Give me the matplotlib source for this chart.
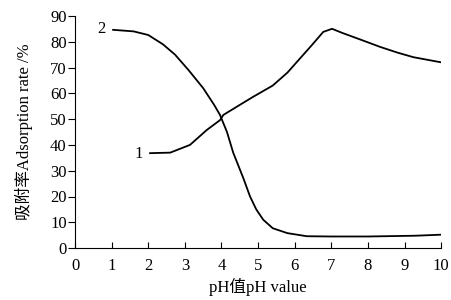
import matplotlib
matplotlib.use("Agg")
import matplotlib.pyplot as plt

plt.rcParams['font.family'] = ['Liberation Serif', 'Noto Sans CJK SC']

ph1 = [2.05, 2.6, 3.14, 3.6, 3.96, 4.05, 4.5, 4.86, 5.4, 5.8, 6.15, 6.47, 6.78, 7.02, 7.3, 7.8, 8.33, 8.8, 9.24, 10.0]
rate1 = [36.8, 37.0, 40.0, 45.8, 49.6, 51.6, 55.5, 58.6, 63.0, 68.0, 73.6, 78.7, 83.8, 85.0, 83.4, 80.8, 78.0, 75.8, 74.0, 72.0]

ph2 = [1.04, 1.6, 2.0, 2.4, 2.73, 3.1, 3.5, 3.8, 3.96, 4.15, 4.32, 4.6, 4.78, 4.95, 5.14, 5.4, 5.8, 6.33, 7.0, 8.0, 9.3, 10.0]
rate2 = [84.6, 84.0, 82.6, 79.0, 75.0, 69.0, 62.0, 55.5, 51.6, 45.0, 37.0, 27.0, 20.0, 15.0, 11.0, 7.7, 5.8, 4.6, 4.5, 4.5, 4.8, 5.2]

xticks = list(range(0, 11))
yticks = list(range(0, 91, 10))

fig = plt.figure(figsize=(4.52, 3.0), dpi=100)
ax = fig.add_axes([0.166, 0.173, 0.81, 0.774])
ax.plot(ph1, rate1, color='black', lw=1.3)
ax.plot(ph2, rate2, color='black', lw=1.3)

ax.set_xlim(0, 10)
ax.set_ylim(0, 90)
ax.set_xticks(xticks)
ax.set_yticks(yticks)
ax.tick_params(axis='x', direction='in', length=4, labelsize=12, pad=7)
ax.tick_params(axis='y', direction='out', length=5, labelsize=12, pad=1)
for s in ['top', 'right']:
    ax.spines[s].set_visible(False)
ax.set_xlabel('pH值pH value', fontsize=12, labelpad=3)
ax.set_ylabel('吸附率Adsorption rate /%', fontsize=12, labelpad=12)

ax.text(0.84, 84.8, '2', fontsize=12, ha='right', va='center')
ax.text(1.85, 36.3, '1', fontsize=12, ha='right', va='center')

fig.savefig('out.png', dpi=100)
